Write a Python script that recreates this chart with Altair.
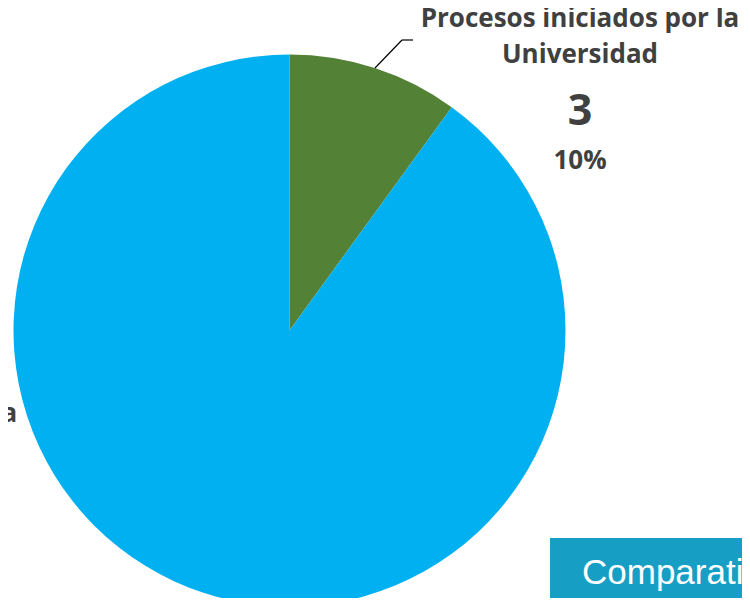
import altair as alt
import pandas as pd

categories = ["Procesos iniciados por la Universidad", "Procesos en contra de la Universidad"]
values = [3, 27]
colors = ["#538135", "#00B0F0"]

total = sum(values)
pcts = [f"{round(v * 100 / total)}%" for v in values]

df = pd.DataFrame({"cat": categories, "val": values, "order": [0, 1], "pct": pcts})

CX, CY, R = 281.5, 322.5, 276
FONT = "Open Sans"
TXT = "#404040"

pie = alt.Chart(df).mark_arc(outerRadius=R, stroke=None).encode(
    theta=alt.Theta("val:Q", stack=True),
    color=alt.Color("cat:N", scale=alt.Scale(domain=categories, range=colors), legend=None),
    order=alt.Order("order:Q"),
    x=alt.value(CX),
    y=alt.value(CY),
)

def label_layer(cat, cx, y1, y2, y3, y4, line1, line2):
    sub = alt.Chart(df).transform_filter(alt.datum.cat == cat)
    base = dict(font=FONT, fontWeight="bold", color=TXT, align="center", baseline="alphabetic")
    l1 = sub.mark_text(fontSize=26, text=line1, **base).encode(x=alt.value(cx), y=alt.value(y1))
    l2 = sub.mark_text(fontSize=26, text=line2, **base).encode(x=alt.value(cx), y=alt.value(y2))
    l3 = sub.mark_text(fontSize=43, **base).encode(x=alt.value(cx), y=alt.value(y3), text="val:Q")
    l4 = sub.mark_text(fontSize=26, **base).encode(x=alt.value(cx), y=alt.value(y4), text="pct:N")
    return l1 + l2 + l3 + l4

lab_green = label_layer(categories[0], 572, 19, 55, 117, 161, "Procesos iniciados por la", "Universidad")
lab_blue = label_layer(categories[1], -114, 414, 452, 514, 558, "Procesos en contra", "de la Universidad")

leader1 = alt.Chart(df).transform_filter(alt.datum.order == 0).mark_rule(color="black", strokeWidth=1.2).encode(
    x=alt.value(367), y=alt.value(60), x2=alt.value(394), y2=alt.value(32))
leader2 = alt.Chart(df).transform_filter(alt.datum.order == 0).mark_rule(color="black", strokeWidth=1.2).encode(
    x=alt.value(394), y=alt.value(32), x2=alt.value(405), y2=alt.value(32))

box = alt.Chart(df).transform_filter(alt.datum.order == 0).mark_rect(color="#179EC4").encode(
    x=alt.value(542), x2=alt.value(760), y=alt.value(530), y2=alt.value(620))
box_text = alt.Chart(df).transform_filter(alt.datum.order == 0).mark_text(
    text="Comparativo", font="Liberation Sans", fontSize=35, color="white", align="left", baseline="alphabetic"
).encode(x=alt.value(574), y=alt.value(576))

chart = alt.layer(pie, leader1, leader2, lab_green, lab_blue, box, box_text).properties(
    width=734, height=590, padding=0, autosize="none", background="white"
).configure_view(stroke=None, clip=False)

chart.save("out.html", embed_options={"renderer": "svg", "actions": False})
